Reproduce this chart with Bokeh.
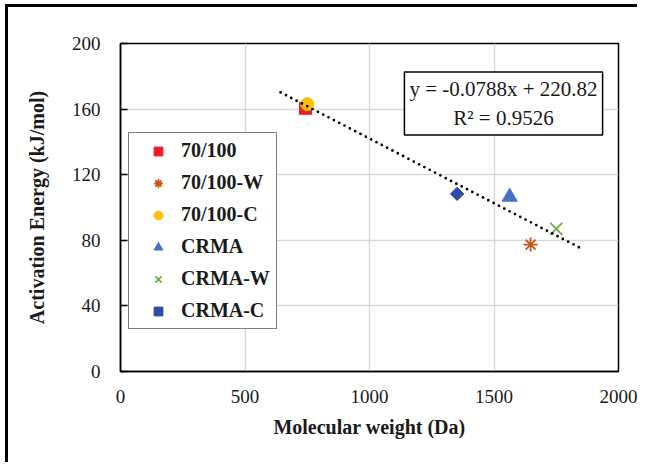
import math
from bokeh.plotting import figure
from bokeh.models import Label, Range1d, Legend, LegendItem, FixedTicker
from bokeh.embed import file_html
from bokeh.resources import INLINE

# ---- data ----
series = ["70/100", "70/100-W", "70/100-C", "CRMA", "CRMA-W", "CRMA-C"]
mol_weight = [743, 1647, 750, 1563, 1750, 1352]
act_energy = [160.5, 77.4, 163.0, 106.5, 87.0, 108.3]
markers = ["square", "asterisk", "circle", "triangle", "x", "square"]
angles = [0, 0, 0, 0, 0, math.pi / 4]
colors = ["#EE1D23", "#C55A11", "#FFC000", "#4472C4", "#70AD47", "#2F4D9E"]
sizes = [12, 14, 13, 15, 17, 9.5]

slope = -0.0788
intercept = 220.82
r_squared = 0.9526
trend_x = [643, 1850]

x_ticks = [0, 500, 1000, 1500, 2000]
y_ticks = [0, 40, 80, 120, 160, 200]

FONT = "Liberation Serif"

frame_css = {
    "background-color": "#ffffff",
    "background-image": "linear-gradient(#000,#000), linear-gradient(#000,#000)",
    "background-position": "5px 4px, 5px 4px",
    "background-size": "3px 2000px, 2000px 3px",
    "background-repeat": "no-repeat, no-repeat",
}

p = figure(width=637, height=462, output_backend="svg", toolbar_location=None,
           x_range=Range1d(0, 2000), y_range=Range1d(0, 200),
           min_border_left=120, min_border_right=19, min_border_top=43, min_border_bottom=91,
           styles=frame_css)
p.background_fill_color = "white"
p.border_fill_color = None
p.outline_line_color = "black"
p.outline_line_width = 1.5

p.xaxis.ticker = FixedTicker(ticks=x_ticks)
p.yaxis.ticker = FixedTicker(ticks=y_ticks)
for ax in (p.xaxis, p.yaxis):
    ax.axis_line_color = "black"
    ax.axis_line_width = 1.5
    ax.major_label_text_font = FONT
    ax.major_label_text_font_size = "19px"
    ax.major_label_text_color = "#1a1a1a"
    ax.minor_tick_line_color = None
    ax.axis_label_text_font = FONT
    ax.axis_label_text_font_style = "bold"
    ax.axis_label_text_font_size = "20px"
    ax.axis_label_text_color = "#1a1a1a"
p.xaxis.major_tick_in = 0
p.xaxis.major_tick_out = 0
p.xaxis.major_label_standoff = 18
p.xaxis.axis_label = "Molecular weight (Da)"
p.xaxis.axis_label_standoff = 10
p.yaxis.major_tick_in = 7
p.yaxis.major_tick_out = 0
p.yaxis.major_tick_line_color = "black"
p.yaxis.major_tick_line_width = 1.5
p.yaxis.major_label_standoff = 20
p.yaxis.axis_label = "Activation Energy (kJ/mol)"
p.yaxis.axis_label_standoff = 21

p.xgrid.grid_line_color = "#D9D9D9"
p.ygrid.grid_line_color = "#D9D9D9"
p.xgrid.grid_line_width = 1.5
p.ygrid.grid_line_width = 1.5

items = []
for name, xv, yv, mk, ang, col, sz in zip(series, mol_weight, act_energy, markers, angles, colors, sizes):
    if mk in ("x", "asterisk"):
        r = p.scatter([xv], [yv], marker=mk, size=sz, line_color=col, line_width=1.8)
    else:
        r = p.scatter([xv], [yv], marker=mk, size=sz, angle=ang, fill_color=col, line_color=col)
    items.append(LegendItem(label=name, renderers=[r]))

trend_y = [slope * xv + intercept for xv in trend_x]
p.line(trend_x, trend_y, line_color="black", line_width=2.8, line_dash="0 6", line_cap="round")

legend = Legend(items=items, location=(8, 42))
legend.border_line_color = "black"
legend.border_line_width = 1.5
legend.background_fill_color = "white"
legend.background_fill_alpha = 1
legend.label_text_font = FONT
legend.label_text_font_style = "bold"
legend.label_text_font_size = "20px"
legend.label_text_color = "#1a1a1a"
legend.padding = 6
legend.spacing = 9
legend.label_height = 22
legend.glyph_height = 22
legend.glyph_width = 46
legend.label_standoff = 0
legend.margin = 0
p.add_layout(legend, "center")

eq_text = f"y = {slope}x + {intercept}\nR\u00b2 = {r_squared}"
eq = Label(x=383, y=268, x_units="screen", y_units="screen", text=eq_text,
           text_align="center", text_baseline="middle",
           text_font=FONT, text_font_size="21px", text_color="#1a1a1a",
           border_line_color="black", border_line_width=1.5,
           background_fill_color="white", padding=5)
p.add_layout(eq)

open("out.html", "w").write(file_html(p, INLINE))
